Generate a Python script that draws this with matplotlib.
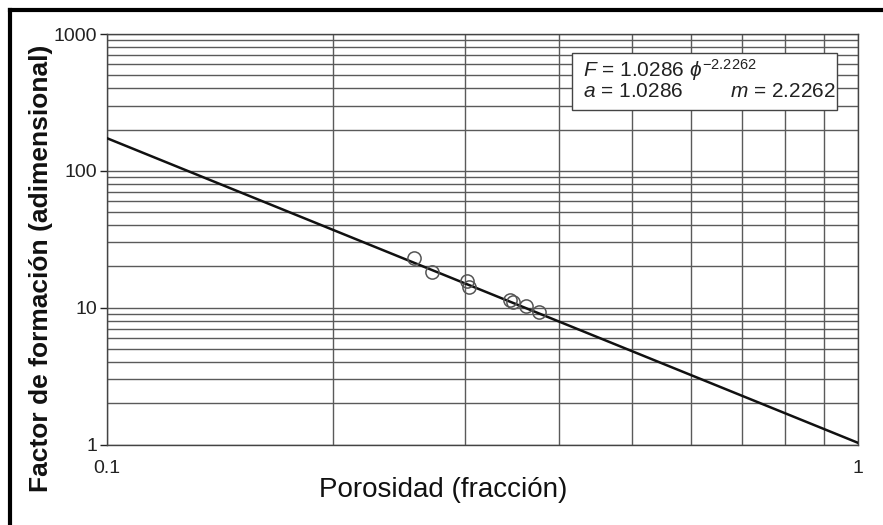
import matplotlib
matplotlib.use("Agg")
import matplotlib.pyplot as plt
import numpy as np
from matplotlib.lines import Line2D
from matplotlib.patches import Rectangle

# Data
porosity = [0.256, 0.271, 0.302, 0.303, 0.344, 0.347, 0.361, 0.376]
form_factor = [22.9, 18.1, 15.7, 14.2, 11.4, 11.0, 10.2, 9.3]
a_coef = 1.0286
m_exp = 2.2262
x_ticks = [0.1, 1]
x_ticklabels = ["0.1", "1"]
y_ticks = [1, 10, 100, 1000]
y_ticklabels = ["1", "10", "100", "1000"]

plt.rcParams['font.family'] = ['Liberation Sans', 'DejaVu Sans']
plt.rcParams['mathtext.fontset'] = 'custom'
plt.rcParams['mathtext.rm'] = 'Liberation Sans'
plt.rcParams['mathtext.it'] = 'Liberation Sans:italic'
plt.rcParams['mathtext.bf'] = 'Liberation Sans:bold'

fig = plt.figure(figsize=(8.83, 5.25), dpi=100)
ax = fig.add_axes([107/883, 1-444.5/525, (858-107)/883, (444.5-34)/525])
ax.set_xscale('log')
ax.set_yscale('log')
ax.set_xlim(0.1, 1)
ax.set_ylim(1, 1000)

gc = '#5a5a5a'
ax.grid(True, which='both', axis='both', color=gc, linewidth=1.0)
ax.set_axisbelow(True)
for s in ax.spines.values():
    s.set_color('#444444')
    s.set_linewidth(1.0)

xs = np.logspace(-1, 0, 200)
ax.plot(xs, a_coef * xs ** (-m_exp), color='#111111', linewidth=1.8, zorder=3)
ax.plot(porosity, form_factor, linestyle='none', marker='o', markersize=9.5,
        markerfacecolor='none', markeredgecolor='#555555', markeredgewidth=1.1, zorder=4)

ax.set_xticks(x_ticks)
ax.set_xticklabels(x_ticklabels)
ax.set_yticks(y_ticks)
ax.set_yticklabels(y_ticklabels)
ax.tick_params(axis='x', which='both', length=0, labelsize=14, pad=11, colors='#222222')
ax.tick_params(axis='y', which='major', length=5, width=1, labelsize=14, pad=2, colors='#222222')
ax.tick_params(axis='y', which='minor', length=0)
ax.xaxis.set_minor_formatter(matplotlib.ticker.NullFormatter())
ax.yaxis.set_minor_formatter(matplotlib.ticker.NullFormatter())

fig.text(41/883, 1-268/525, "Factor de formación (adimensional)", rotation=90,
         ha='center', va='center', fontsize=19, fontweight='bold', color='#111111')
fig.text(443/883, 1-490/525, "Porosidad (fracción)", ha='center', va='center',
         fontsize=20, color='#111111')

# equation box
ax.add_patch(Rectangle((0.619, 0.815), 0.353, 0.139, transform=ax.transAxes,
                       facecolor='white', edgecolor='#444444', linewidth=1.0, zorder=5))
ax.text(0.634, 0.912, r"$F$ = 1.0286 $\phi^{-2.2262}$", transform=ax.transAxes,
        ha='left', va='center', fontsize=15, color='#222222', zorder=6)
ax.text(0.634, 0.859, r"$a$ = 1.0286", transform=ax.transAxes,
        ha='left', va='center', fontsize=15, color='#222222', zorder=6)
ax.text(0.970, 0.859, r"$m$ = 2.2262", transform=ax.transAxes,
        ha='right', va='center', fontsize=15, color='#222222', zorder=6)

# figure frame (left and top)
fig.add_artist(Line2D([10/883, 10/883], [0, 1-10/525], transform=fig.transFigure, color='black', linewidth=3))
fig.add_artist(Line2D([10/883, 1], [1-10/525, 1-10/525], transform=fig.transFigure, color='black', linewidth=3))

fig.savefig('out.png', dpi=100)
